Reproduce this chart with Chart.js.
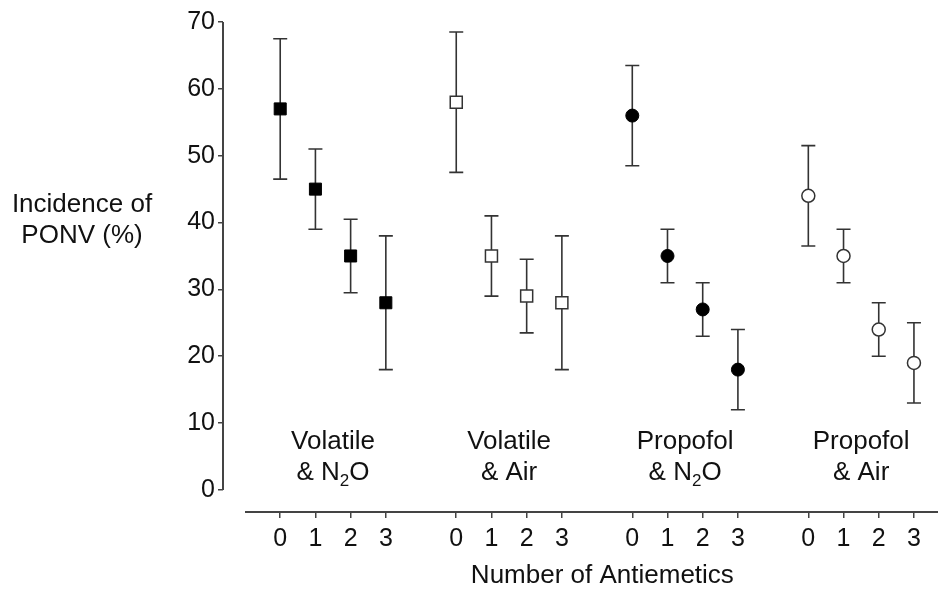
<!DOCTYPE html>
<html>
<head>
<meta charset="utf-8">
<script src="https://cdn.jsdelivr.net/npm/chart.js@4.4.1/dist/chart.umd.min.js"></script>
<style>
  html, body { margin: 0; padding: 0; background: #fff; overflow: hidden; }
  #wrap { width: 940px; height: 589px; }
</style>
</head>
<body>
<div id="wrap"><canvas id="ponvChart"></canvas></div>
<script>
// number of antiemetics given, and where each anaesthetic group starts on the x axis
const antiemetics = [0, 1, 2, 3];
const groupStart = [0, 5, 10, 15];
const groupLine1 = ["Volatile", "Volatile", "Propofol", "Propofol"];
const groupLine2 = ["& N_2O", "& Air", "& N_2O", "& Air"];

// incidence of PONV (%) with 95% CI
const volatileN2O = [57, 45, 35, 28];
const volatileN2OLow = [46.5, 39, 29.5, 18];
const volatileN2OHigh = [67.5, 51, 40.5, 38];

const volatileAir = [58, 35, 29, 28];
const volatileAirLow = [47.5, 29, 23.5, 18];
const volatileAirHigh = [68.5, 41, 34.5, 38];

const propofolN2O = [56, 35, 27, 18];
const propofolN2OLow = [48.5, 31, 23, 12];
const propofolN2OHigh = [63.5, 39, 31, 24];

const propofolAir = [44, 35, 24, 19];
const propofolAirLow = [36.5, 31, 20, 13];
const propofolAirHigh = [51.5, 39, 28, 25];

const yTicks = [0, 10, 20, 30, 40, 50, 60, 70];
const yTitle = ["Incidence of", "PONV (%)"];
const xTitle = "Number of Antiemetics";

const FONT = "'Liberation Sans', Arial, sans-serif";
const INK = "#111";

// tick positions / labels built from the groups
const xTickValues = [];
const xTickLabels = [];
groupStart.forEach((s) => {
  antiemetics.forEach((n) => {
    xTickValues.push(s + n);
    xTickLabels.push(String(n));
  });
});

function points(g, values) {
  return values.map((v, i) => ({ x: groupStart[g] + antiemetics[i], y: v }));
}

function drawWithSub(ctx, text, cx, baseY, size) {
  // "& N_2O" -> "& N" + subscript "2" + "O"
  const parts = text.split(/_(\d)/);
  const big = size + "px " + FONT;
  const small = Math.round(size * 0.65) + "px " + FONT;
  let total = 0;
  parts.forEach((p, i) => {
    ctx.font = i % 2 ? small : big;
    total += ctx.measureText(p).width;
  });
  let px = cx - total / 2;
  ctx.textAlign = "left";
  parts.forEach((p, i) => {
    ctx.font = i % 2 ? small : big;
    ctx.fillText(p, px, i % 2 ? baseY + 6 : baseY);
    px += ctx.measureText(p).width;
  });
}

const errorBars = {
  id: "errorBars",
  beforeDatasetsDraw(chart) {
    const { ctx, scales: { x, y } } = chart;
    ctx.save();
    ctx.strokeStyle = "#333";
    ctx.lineWidth = 1.6;
    chart.data.datasets.forEach((ds) => {
      ds.data.forEach((p, i) => {
        const px = x.getPixelForValue(p.x);
        const yLo = y.getPixelForValue(ds.errLow[i]);
        const yHi = y.getPixelForValue(ds.errHigh[i]);
        ctx.beginPath();
        ctx.moveTo(px, yLo);
        ctx.lineTo(px, yHi);
        ctx.moveTo(px - 7, yLo);
        ctx.lineTo(px + 7, yLo);
        ctx.moveTo(px - 7, yHi);
        ctx.lineTo(px + 7, yHi);
        ctx.stroke();
      });
    });
    ctx.restore();
  },
};

const axesAndText = {
  id: "axesAndText",
  afterDraw(chart) {
    const { ctx, chartArea, scales: { x, y } } = chart;
    ctx.save();
    // detached axis lines
    ctx.strokeStyle = "#444";
    ctx.lineWidth = 2;
    ctx.beginPath();
    ctx.moveTo(chartArea.left, y.getPixelForValue(0));
    ctx.lineTo(chartArea.left, y.getPixelForValue(70));
    ctx.moveTo(x.getPixelForValue(-1), chartArea.bottom);
    ctx.lineTo(chartArea.right - 2, chartArea.bottom);
    ctx.stroke();

    ctx.fillStyle = INK;
    ctx.textBaseline = "alphabetic";
    ctx.textAlign = "center";
    ctx.font = "26px " + FONT;
    ctx.fillText(yTitle[0], 82, 212);
    ctx.fillText(yTitle[1], 82, 243);
    ctx.fillText(xTitle, x.getPixelForValue(9.15), 583);

    groupStart.forEach((s, g) => {
      const cx = x.getPixelForValue(s + 1.5);
      ctx.textAlign = "center";
      ctx.font = "26px " + FONT;
      ctx.fillText(groupLine1[g], cx, y.getPixelForValue(6.1));
      drawWithSub(ctx, groupLine2[g], cx, y.getPixelForValue(1.5), 26);
    });
    ctx.restore();
  },
};

new Chart(document.getElementById("ponvChart"), {
  type: "scatter",
  data: {
    datasets: [
      {
        label: "Volatile & N2O",
        data: points(0, volatileN2O),
        errLow: volatileN2OLow,
        errHigh: volatileN2OHigh,
        pointStyle: "rect",
        pointRadius: 8.5,
        backgroundColor: "#000",
        borderColor: "#000",
        borderWidth: 1,
      },
      {
        label: "Volatile & Air",
        data: points(1, volatileAir),
        errLow: volatileAirLow,
        errHigh: volatileAirHigh,
        pointStyle: "rect",
        pointRadius: 8.5,
        backgroundColor: "#fff",
        borderColor: "#333",
        borderWidth: 1.5,
      },
      {
        label: "Propofol & N2O",
        data: points(2, propofolN2O),
        errLow: propofolN2OLow,
        errHigh: propofolN2OHigh,
        pointStyle: "circle",
        pointRadius: 6.5,
        backgroundColor: "#000",
        borderColor: "#000",
        borderWidth: 1,
      },
      {
        label: "Propofol & Air",
        data: points(3, propofolAir),
        errLow: propofolAirLow,
        errHigh: propofolAirHigh,
        pointStyle: "circle",
        pointRadius: 6.5,
        backgroundColor: "#fff",
        borderColor: "#333",
        borderWidth: 1.5,
      },
    ],
  },
  options: {
    responsive: true,
    maintainAspectRatio: false,
    animation: false,
    layout: { autoPadding: false, padding: { left: 183, top: 22, right: 0, bottom: 0 } },
    plugins: {
      legend: { display: false },
      tooltip: { enabled: false },
    },
    scales: {
      x: {
        type: "linear",
        min: -1.625,
        max: 18.74,
        afterBuildTicks: (scale) => {
          scale.ticks = xTickValues.map((v) => ({ value: v }));
        },
        afterFit: (scale) => {
          scale.height = 77;
        },
        ticks: {
          autoSkip: false,
          maxRotation: 0,
          padding: 6,
          color: INK,
          font: { family: FONT, size: 25 },
          callback: (value, index) => xTickLabels[index],
        },
        grid: {
          drawOnChartArea: false,
          tickLength: 6,
          color: "#444",
          lineWidth: 1.5,
        },
        border: { display: false },
      },
      y: {
        min: -3.3,
        max: 70,
        afterBuildTicks: (scale) => {
          scale.ticks = yTicks.map((v) => ({ value: v }));
        },
        afterFit: (scale) => {
          scale.width = 40;
        },
        ticks: {
          padding: 3,
          color: INK,
          font: { family: FONT, size: 25 },
        },
        grid: {
          drawOnChartArea: false,
          tickLength: 5,
          color: "#444",
          lineWidth: 1.5,
        },
        border: { display: false },
      },
    },
  },
  plugins: [errorBars, axesAndText],
});
</script>
</body>
</html>
